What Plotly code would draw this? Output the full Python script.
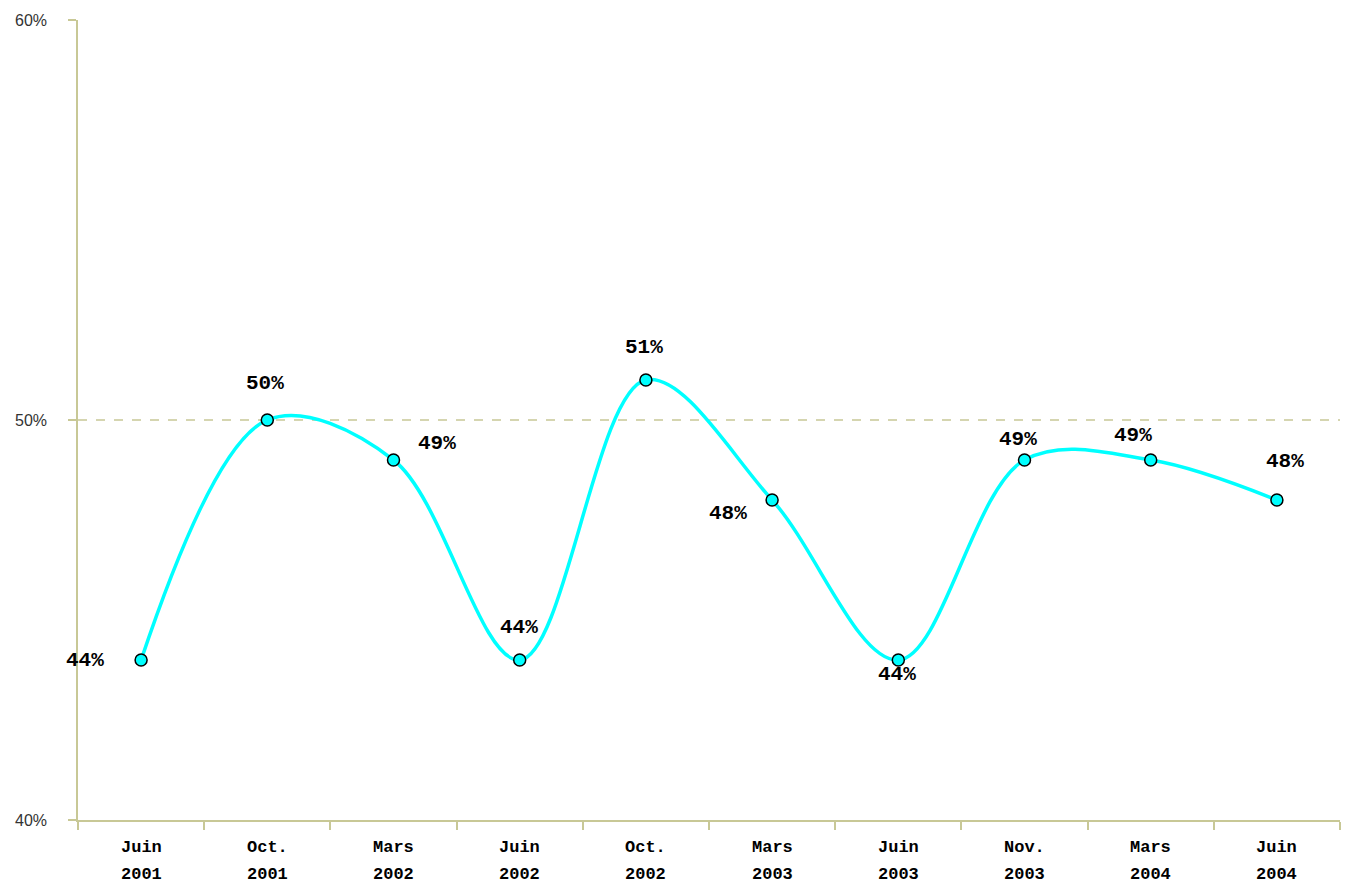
import plotly.graph_objects as go

months = ["Juin", "Oct.", "Mars", "Juin", "Oct.", "Mars", "Juin", "Nov.", "Mars", "Juin"]
years = ["2001", "2001", "2002", "2002", "2002", "2003", "2003", "2003", "2004", "2004"]
values = [44, 50, 49, 44, 51, 48, 44, 49, 49, 48]
y_ticks = [40, 50, 60]
y_tick_labels = ["40%", "50%", "60%"]
reference_level = 50

categories = [f"{m} {y}" for m, y in zip(months, years)]

# label offsets (pixels) relative to each point
label_dx = [-56, -2, 43, -1, -2, -44, -1, -7, -18, 8]
label_dy = [0, 37, 17, 33, 33, -13, -14, 21, 25, 39]

AXIS_COLOR = "#c8c896"
MONO = "Liberation Mono, Courier New, monospace"

fig = go.Figure()
fig.add_trace(go.Scatter(
    x=categories, y=values, mode="lines+markers",
    line=dict(color="#00ffff", width=3.5, shape="spline", smoothing=1.0),
    marker=dict(size=12, color="#00ffff", line=dict(color="black", width=1.5)),
    hoverinfo="skip", showlegend=False,
))

annotations = []
for c, v, dx, dy in zip(categories, values, label_dx, label_dy):
    annotations.append(dict(
        x=c, y=v, xref="x", yref="y", text=f"{v}%", showarrow=False,
        xshift=dx, yshift=dy, xanchor="center", yanchor="middle",
        font=dict(family=MONO, size=21, color="black", weight="bold"),
    ))
for c, m, yr in zip(categories, months, years):
    annotations.append(dict(
        x=c, y=-0.034, xref="x", yref="paper", text=m, showarrow=False,
        xanchor="center", yanchor="middle",
        font=dict(family=MONO, size=17, color="black", weight="bold"),
    ))
    annotations.append(dict(
        x=c, y=-0.0685, xref="x", yref="paper", text=yr, showarrow=False,
        xanchor="center", yanchor="middle",
        font=dict(family=MONO, size=17, color="black", weight="bold"),
    ))

fig.add_shape(type="line", xref="paper", yref="y", x0=0, x1=1,
              y0=reference_level, y1=reference_level,
              line=dict(color=AXIS_COLOR, width=1.5, dash="dash"), layer="below")

fig.update_layout(
    width=1355, height=886,
    margin=dict(l=78, r=15, t=20, b=66),
    paper_bgcolor="white", plot_bgcolor="white",
    annotations=annotations,
    xaxis=dict(
        type="category", showticklabels=False, tickson="boundaries",
        ticks="outside", ticklen=8, tickcolor=AXIS_COLOR, tickwidth=1.5,
        showline=True, linecolor=AXIS_COLOR, linewidth=1.5,
        showgrid=False, zeroline=False, range=[-0.5, 9.5],
    ),
    yaxis=dict(
        range=[40, 60], tickvals=y_ticks, ticktext=y_tick_labels,
        ticks="outside", ticklen=8, tickcolor=AXIS_COLOR, tickwidth=1.5,
        showline=True, linecolor=AXIS_COLOR, linewidth=1.5,
        showgrid=False, zeroline=False, automargin=False,
        tickfont=dict(family="Liberation Sans, Arial, sans-serif", size=16, color="#333333"),
        ticklabelstandoff=18,
    ),
)

fig.write_html(
    "out.html",
    config={"displayModeBar": False},
    post_script="document.body.style.margin='0';document.body.style.overflow='hidden';",
)
